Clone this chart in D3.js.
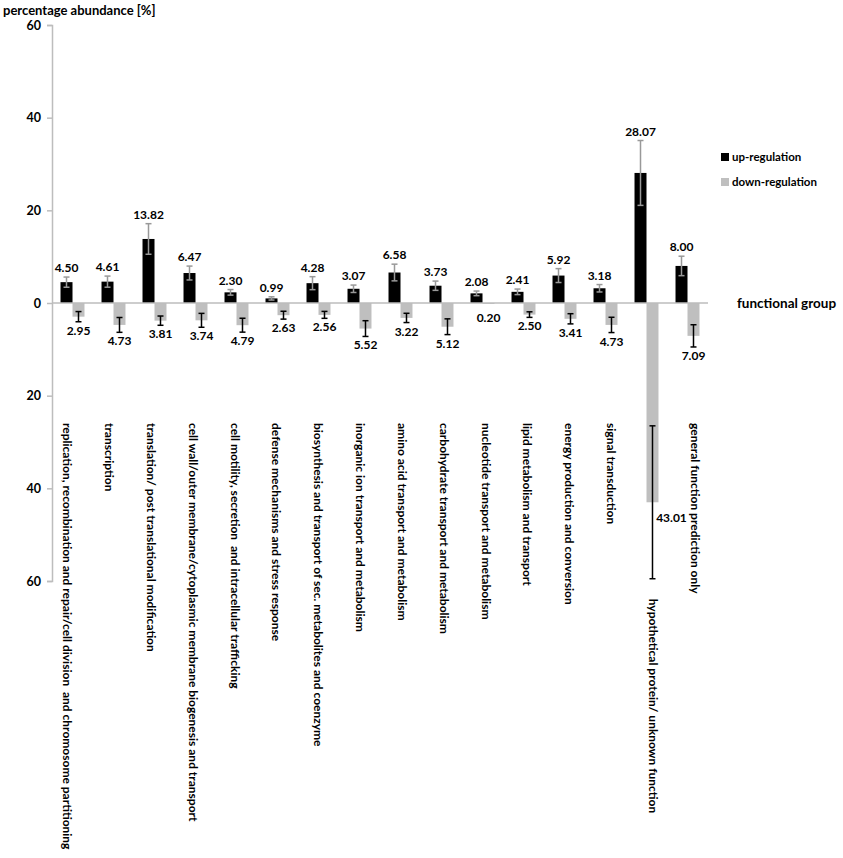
<!DOCTYPE html>
<html>
<head>
<meta charset="utf-8">
<script src="https://cdn.jsdelivr.net/npm/d3@7"></script>
<style>
    body { margin: 0; background: #ffffff; }
    svg text { font-family: Lato, "Open Sans", sans-serif; font-weight: bold; fill: #000; }
</style>
</head>
<body>
<svg id="chart" width="843" height="858"></svg>
<script>
// functional groups (x axis categories)
let groups = [
    "replication, recombination and repair/cell division  and chromosome partitioning",
    "transcription",
    "translation/ post translational modification",
    "cell wall/outer membrane/cytoplasmic membrane biogenesis and transport",
    "cell motility, secretion  and intracellular trafficking",
    "defense mechanisms and stress response",
    "biosynthesis and transport of sec. metabolites and coenzyme",
    "inorganic ion transport and metabolism",
    "amino acid transport and metabolism",
    "carbohydrate transport and metabolism",
    "nucleotide transport and metabolism",
    "lipid metabolism and transport",
    "energy production and conversion",
    "signal transduction",
    "hypothetical protein/ unknown function",
    "general function prediction only"
];
// percentage abundance
let upValues = [4.50, 4.61, 13.82, 6.47, 2.30, 0.99, 4.28, 3.07, 6.58, 3.73, 2.08, 2.41, 5.92, 3.18, 28.07, 8.00];
let downValues = [2.95, 4.73, 3.81, 3.74, 4.79, 2.63, 2.56, 5.52, 3.22, 5.12, 0.20, 2.50, 3.41, 4.73, 43.01, 7.09];
// error bar half-widths
let upErrors = [1.1, 1.2, 3.3, 1.5, 0.6, 0.35, 1.4, 0.8, 1.8, 1.0, 0.5, 0.6, 1.5, 0.8, 7.0, 2.1];
let downErrors = [1.1, 1.6, 1.0, 1.5, 1.5, 0.85, 0.75, 1.7, 1.0, 1.7, 0, 0.6, 1.1, 1.65, 16.5, 2.4];
let tickValues = [-60, -40, -20, 0, 20, 40, 60];
let seriesNames = ["up-regulation", "down-regulation"];

let svg = d3.select("svg#chart");
let plot = { left: 52, right: 708, top: 25, bottom: 581 };
let upColor = "#000000";
let downColor = "#bfbfbf";
let axisColor = "#bdbdbd";

let rows = groups.map((g, i) => ({
    group: g, up: upValues[i], down: downValues[i], upErr: upErrors[i], downErr: downErrors[i]
}));

let xScale = d3.scaleBand().domain(groups).range([plot.left, plot.right]).paddingInner(0).paddingOuter(0);
let subScale = d3.scaleBand().domain(["up", "down"]).range([0, xScale.bandwidth()]).paddingInner(0).paddingOuter(0.71);
let yScale = d3.scaleLinear().domain([-60, 60]).range([plot.bottom, plot.top]);
// category labels are spread a little wider than the bars
let labelScale = d3.scalePoint().domain(groups).range([plot.left + 15.5, plot.right - 13]);

// y axis (both halves shown as positive numbers)
let yAxis = d3.axisLeft(yScale).tickValues(tickValues).tickFormat(d => Math.abs(d)).tickSize(5).tickPadding(6);
let yAxisG = svg.append("g")
    .attr("transform", "translate(" + plot.left + ",0)")
    .call(yAxis);
yAxisG.select("path.domain").attr("stroke", axisColor).attr("stroke-width", 1.5);
yAxisG.selectAll(".tick line").attr("stroke", axisColor).attr("stroke-width", 1.5);
yAxisG.selectAll(".tick text").style("font-size", "12.5px").style("font-family", "Lato, sans-serif").style("font-weight", "bold");

svg.append("text")
    .attr("x", 3)
    .attr("y", 15)
    .style("font-size", "13px")
    .text("percentage abundance [%]");

let bars = svg.append("g");
let groupsG = bars.selectAll("g.grp").data(rows).enter().append("g")
    .attr("class", "grp")
    .attr("transform", d => "translate(" + xScale(d.group) + ",0)");

// up bars
groupsG.append("rect")
    .attr("x", subScale("up"))
    .attr("width", subScale.bandwidth())
    .attr("y", d => yScale(d.up))
    .attr("height", d => yScale(0) - yScale(d.up))
    .attr("fill", upColor);

// down bars
groupsG.append("rect")
    .attr("x", subScale("down"))
    .attr("width", subScale.bandwidth())
    .attr("y", yScale(0))
    .attr("height", d => yScale(-d.down) - yScale(0))
    .attr("fill", downColor);

// zero line
svg.append("line")
    .attr("x1", plot.left).attr("x2", plot.right)
    .attr("y1", yScale(0)).attr("y2", yScale(0))
    .attr("stroke", axisColor).attr("stroke-width", 1.5);

// error bars
function errorBar(sel, key, errKey, sign, color) {
    let cx = subScale(key) + subScale.bandwidth() / 2;
    let capW = 3;
    let g = sel.filter(d => d[errKey] > 0).append("g").attr("stroke", color).attr("stroke-width", 1.5);
    g.append("line").attr("x1", cx).attr("x2", cx)
        .attr("y1", d => yScale(sign * d[key] + d[errKey]))
        .attr("y2", d => yScale(sign * d[key] - d[errKey]));
    g.append("line").attr("x1", cx - capW).attr("x2", cx + capW)
        .attr("y1", d => yScale(sign * d[key] + d[errKey]))
        .attr("y2", d => yScale(sign * d[key] + d[errKey]));
    g.append("line").attr("x1", cx - capW).attr("x2", cx + capW)
        .attr("y1", d => yScale(sign * d[key] - d[errKey]))
        .attr("y2", d => yScale(sign * d[key] - d[errKey]));
}
errorBar(groupsG, "up", "upErr", 1, "#999999");
errorBar(groupsG, "down", "downErr", -1, "#000000");

// value labels
groupsG.append("text")
    .attr("x", subScale("up") + subScale.bandwidth() / 2)
    .attr("y", d => yScale(d.up + d.upErr) - 5)
    .attr("text-anchor", "middle")
    .style("font-size", "12px")
    .text(d => d.up.toFixed(2));

groupsG.append("text")
    .attr("x", d => subScale("down") + subScale.bandwidth() / 2 + (d.downErr > 10 ? 19 : 0))
    .attr("y", d => d.downErr > 10 ? yScale(-d.down) + 20 : Math.max(yScale(-d.down - d.downErr) + 13, yScale(0) + 19))
    .attr("text-anchor", "middle")
    .style("font-size", "12px")
    .text(d => d.down.toFixed(2));

// category labels, rotated
let labelTop = 423;
svg.append("g").selectAll("text").data(rows).enter().append("text")
    .attr("transform", d => {
        let y = Math.max(labelTop, yScale(-d.down - d.downErr) + 20);
        return "translate(" + labelScale(d.group) + "," + y + ")rotate(90)";
    })
    .attr("dy", "0.35em")
    .style("font-size", "12px")
    .style("white-space", "pre")
    .text(d => d.group);

// legend
let legend = svg.append("g").attr("transform", "translate(721,157)");
seriesNames.forEach(function (name, i) {
    legend.append("rect")
        .attr("x", 0).attr("y", i * 25 - 4)
        .attr("width", 8).attr("height", 8)
        .attr("fill", i === 0 ? upColor : downColor);
    legend.append("text")
        .attr("x", 11).attr("y", i * 25)
        .attr("dy", "0.35em")
        .style("font-size", "11.5px")
        .text(name);
});

svg.append("text")
    .attr("x", 737)
    .attr("y", yScale(0))
    .attr("dy", "0.35em")
    .style("font-size", "13.5px")
    .text("functional group");
</script>
</body>
</html>
